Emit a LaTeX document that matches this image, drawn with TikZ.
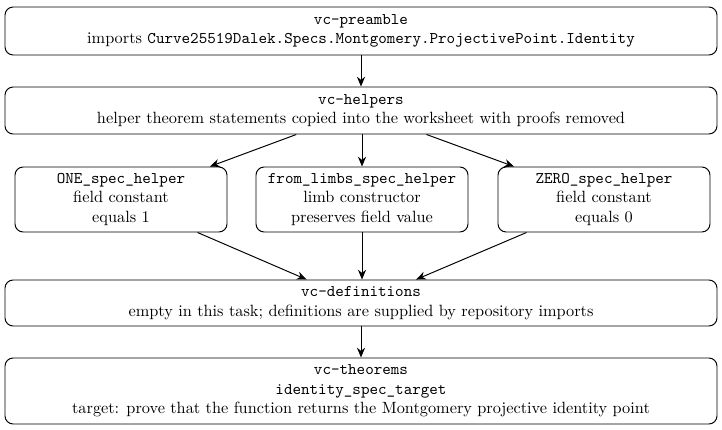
\documentclass[tikz,border=0pt]{standalone}
\usetikzlibrary{arrows.meta}
\begin{document}
\begin{tikzpicture}[x=0.614pt,y=-0.614pt,
  box/.style={draw,rounded corners=5pt,align=center,inner sep=2pt,line width=0.6pt},
  wide/.style={box,minimum width=712*0.614pt},
  small/.style={box,minimum width=212*0.614pt,minimum height=65*0.614pt},
  arr/.style={-{Stealth[length=6pt,width=5pt]},line width=0.6pt}]
\useasboundingbox (0,0) rectangle (722,430);
\node[wide,minimum height=48*0.614pt] (pre) at (361,31) {\texttt{vc-preamble}\\imports \texttt{Curve25519Dalek.Specs.Montgomery.ProjectivePoint.Identity}};
\node[wide,minimum height=47*0.614pt] (help) at (361,110.5) {\texttt{vc-helpers}\\helper theorem statements copied into the worksheet with proofs removed};
\node[small] (one) at (121,199.5) {\texttt{ONE\_spec\_helper}\\field constant\\equals 1};
\node[small] (limbs) at (362,199.5) {\texttt{from\_limbs\_spec\_helper}\\limb constructor\\preserves field value};
\node[small] (zero) at (604,199.5) {\texttt{ZERO\_spec\_helper}\\field constant\\equals 0};
\node[wide,minimum height=46*0.614pt] (defs) at (361,303) {\texttt{vc-definitions}\\empty in this task; definitions are supplied by repository imports};
\node[wide,minimum height=66*0.614pt] (thm) at (361,391) {\texttt{vc-theorems}\\\texttt{identity\_spec\_target}\\target: prove that the function returns the Montgomery projective identity point};
\draw[arr] (pre) -- (help);
\draw[arr] (help) -- (one);
\draw[arr] (help.south -| limbs) -- (limbs);
\draw[arr] (help) -- (zero);
\draw[arr] (one) -- (defs);
\draw[arr] (limbs) -- (defs.north -| limbs);
\draw[arr] (zero) -- (defs);
\draw[arr] (defs) -- (thm);
\end{tikzpicture}
\end{document}
